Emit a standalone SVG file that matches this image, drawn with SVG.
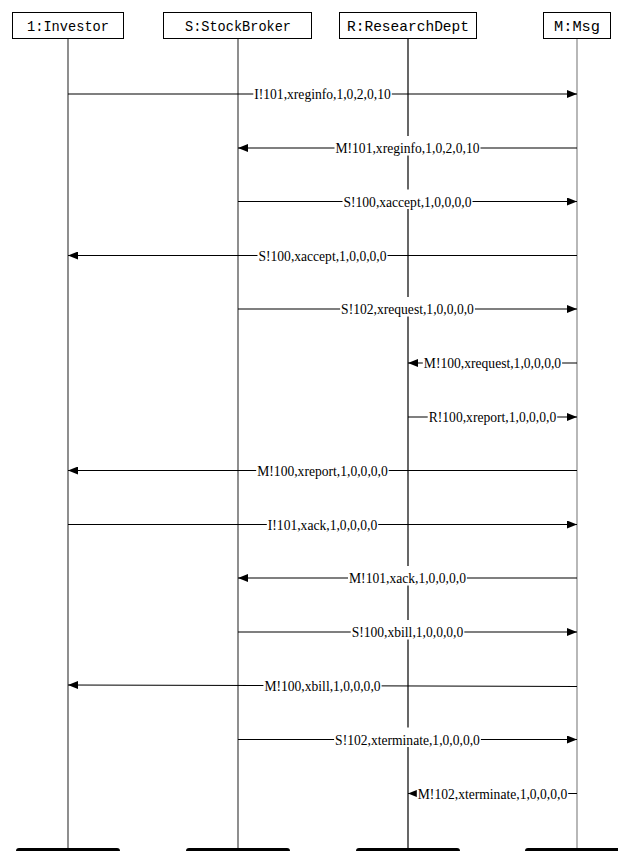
<svg xmlns="http://www.w3.org/2000/svg" width="618" height="851" viewBox="0 0 618 851">
<style>
.box{fill:#fff;stroke:#000;stroke-width:1}
.hd{font-family:"Liberation Mono",monospace;font-size:15px;fill:#000;text-anchor:middle}
.life{stroke-width:1.2;fill:none}
.bar{fill:#000}
.msg{stroke:#000;stroke-width:1.1;fill:none;marker-end:url(#ah)}
.lb{font-family:"Liberation Serif",serif;font-size:15.5px;fill:#000;text-anchor:middle}
.bg{fill:#fff}
</style>
<defs>
<marker id="ah" markerUnits="userSpaceOnUse" markerWidth="10" markerHeight="8" refX="10" refY="4" orient="auto">
<path d="M0,0 L10,4 L0,8 z" fill="#000"/>
</marker>
</defs>
<rect width="618" height="851" fill="#fff"/>
<g id="investor">
<line class="life" x1="68" y1="39" x2="68" y2="848" stroke="#444"/>
<rect class="box" x="12.5" y="12.5" width="111" height="26"/>
<text class="hd" x="68" y="31" textLength="82" lengthAdjust="spacingAndGlyphs">1:Investor</text>
<rect class="bar" x="16" y="848" width="104" height="9" rx="3"/>
</g>
<g id="stockbroker">
<line class="life" x1="238" y1="39" x2="238" y2="848" stroke="#444"/>
<rect class="box" x="163.5" y="12.5" width="148" height="26"/>
<text class="hd" x="238" y="31" textLength="106" lengthAdjust="spacingAndGlyphs">S:StockBroker</text>
<rect class="bar" x="186" y="848" width="104" height="9" rx="3"/>
</g>
<g id="researchdept">
<line class="life" x1="408" y1="39" x2="408" y2="848" stroke="#000"/>
<rect class="box" x="339.5" y="12.5" width="137" height="26"/>
<text class="hd" x="408" y="31" textLength="122" lengthAdjust="spacingAndGlyphs">R:ResearchDept</text>
<rect class="bar" x="356" y="848" width="104" height="9" rx="3"/>
</g>
<g id="msg">
<line class="life" x1="577" y1="39" x2="577" y2="848" stroke="#888"/>
<rect class="box" x="543.5" y="12.5" width="67" height="26"/>
<text class="hd" x="577" y="31" textLength="46" lengthAdjust="spacingAndGlyphs">M:Msg</text>
<rect class="bar" x="525" y="848" width="104" height="9" rx="3"/>
</g>
<g id="connectors">
<line class="msg" x1="68" y1="94" x2="577" y2="94"/>
<line class="msg" x1="577" y1="148" x2="238" y2="148"/>
<line class="msg" x1="238" y1="201.5" x2="577" y2="201.5"/>
<line class="msg" x1="577" y1="255.5" x2="68" y2="255.5"/>
<line class="msg" x1="238" y1="309" x2="577" y2="309"/>
<line class="msg" x1="577" y1="363" x2="408" y2="363"/>
<line class="msg" x1="408" y1="417" x2="577" y2="417"/>
<line class="msg" x1="577" y1="470.5" x2="68" y2="470.5"/>
<line class="msg" x1="68" y1="524.5" x2="577" y2="524.5"/>
<line class="msg" x1="577" y1="578" x2="238" y2="578"/>
<line class="msg" x1="238" y1="632" x2="577" y2="632"/>
<line class="msg" x1="577" y1="686.5" x2="68" y2="685"/>
<line class="msg" x1="238" y1="739.5" x2="577" y2="739.5"/>
<line class="msg" x1="577" y1="793.5" x2="408" y2="793.5"/>

<rect class="bg" x="253.3" y="82" width="138.5" height="19.5"/>
<text class="lb" x="322.5" y="99" textLength="136.5" lengthAdjust="spacingAndGlyphs">I!101,xreginfo,1,0,2,0,10</text>
<rect class="bg" x="334.5" y="136" width="146" height="19.5"/>
<text class="lb" x="407.5" y="153" textLength="144" lengthAdjust="spacingAndGlyphs">M!101,xreginfo,1,0,2,0,10</text>
<rect class="bg" x="342.5" y="189.5" width="130" height="19.5"/>
<text class="lb" x="407.5" y="206.5" textLength="128" lengthAdjust="spacingAndGlyphs">S!100,xaccept,1,0,0,0,0</text>
<rect class="bg" x="257.5" y="243.5" width="130" height="19.5"/>
<text class="lb" x="322.5" y="260.5" textLength="128" lengthAdjust="spacingAndGlyphs">S!100,xaccept,1,0,0,0,0</text>
<rect class="bg" x="340.1" y="297" width="134.8" height="19.5"/>
<text class="lb" x="407.5" y="314" textLength="132.8" lengthAdjust="spacingAndGlyphs">S!102,xrequest,1,0,0,0,0</text>
<rect class="bg" x="422.8" y="351" width="139.3" height="19.5"/>
<text class="lb" x="492.5" y="368" textLength="137.3" lengthAdjust="spacingAndGlyphs">M!100,xrequest,1,0,0,0,0</text>
<rect class="bg" x="427.7" y="405" width="129.5" height="19.5"/>
<text class="lb" x="492.5" y="422" textLength="127.5" lengthAdjust="spacingAndGlyphs">R!100,xreport,1,0,0,0,0</text>
<rect class="bg" x="256.2" y="458.5" width="132.5" height="19.5"/>
<text class="lb" x="322.5" y="475.5" textLength="130.5" lengthAdjust="spacingAndGlyphs">M!100,xreport,1,0,0,0,0</text>
<rect class="bg" x="266.8" y="512.5" width="111.4" height="19.5"/>
<text class="lb" x="322.5" y="529.5" textLength="109.4" lengthAdjust="spacingAndGlyphs">I!101,xack,1,0,0,0,0</text>
<rect class="bg" x="348" y="566" width="118.9" height="19.5"/>
<text class="lb" x="407.5" y="583" textLength="116.9" lengthAdjust="spacingAndGlyphs">M!101,xack,1,0,0,0,0</text>
<rect class="bg" x="350.7" y="620" width="113.6" height="19.5"/>
<text class="lb" x="407.5" y="637" textLength="111.6" lengthAdjust="spacingAndGlyphs">S!100,xbill,1,0,0,0,0</text>
<rect class="bg" x="263.4" y="673.8" width="118.2" height="19.5"/>
<text class="lb" x="322.5" y="690.8" textLength="116.2" lengthAdjust="spacingAndGlyphs">M!100,xbill,1,0,0,0,0</text>
<rect class="bg" x="334.1" y="727.5" width="146.8" height="19.5"/>
<text class="lb" x="407.5" y="744.5" textLength="144.8" lengthAdjust="spacingAndGlyphs">S!102,xterminate,1,0,0,0,0</text>
<rect class="bg" x="416.8" y="781.5" width="151.4" height="19.5"/>
<text class="lb" x="492.5" y="798.5" textLength="149.4" lengthAdjust="spacingAndGlyphs">M!102,xterminate,1,0,0,0,0</text>
</g>
</svg>
